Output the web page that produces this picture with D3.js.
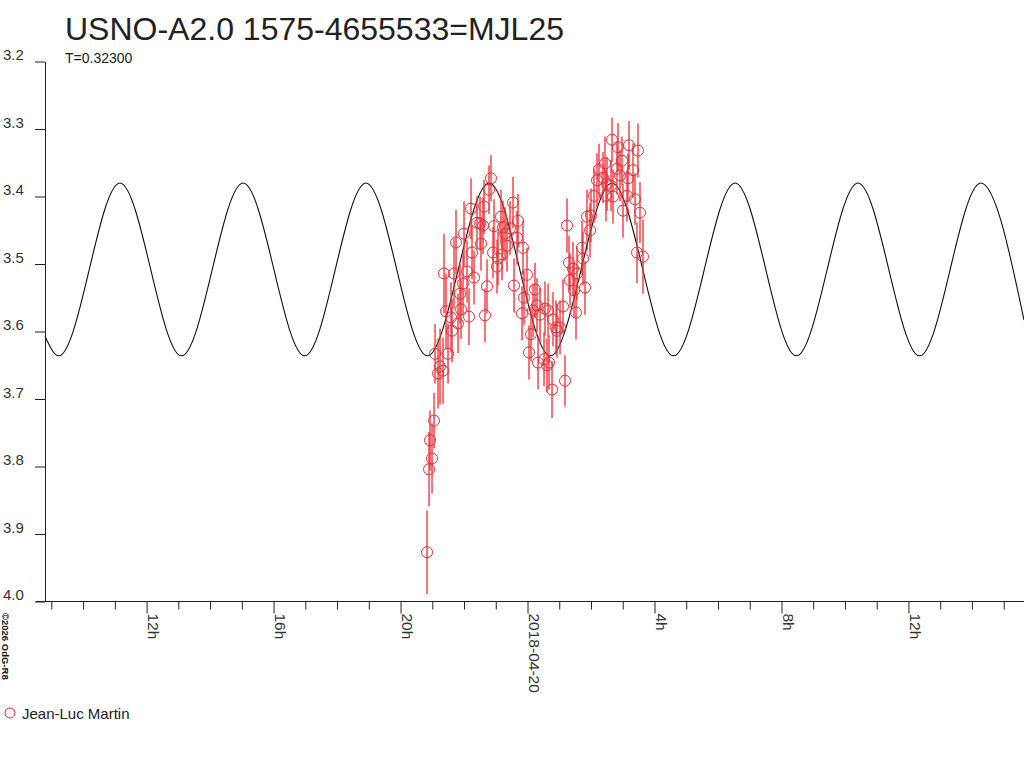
<!DOCTYPE html>
<html>
<head>
<meta charset="utf-8">
<script src="https://cdn.jsdelivr.net/npm/d3@7"></script>
<style>
  html, body { margin: 0; padding: 0; background: #fff; }
  svg { display: block; font-family: "Liberation Sans", Arial, sans-serif; }
</style>
</head>
<body>
<div id="chart"></div>
<script>
// Light curve, times in hours from 2018-04-20 00:00 UT
const titleText = "USNO-A2.0 1575-4655533=MJL25";
const periodText = "T=0.32300";
const observer = "Jean-Luc Martin";
const creditText = "\u00a92026 OdG-R8";

const yTicks = [3.2, 3.3, 3.4, 3.5, 3.6, 3.7, 3.8, 3.9, 4.0];
const xMajorHours = [-12, -8, -4, 0, 4, 8, 12];
const xMajorLabels = ["12h", "16h", "20h", "2018-04-20", "4h", "8h", "12h"];

// observations
const obsTime = [
  -3.165, -3.102, -3.071, -3.008, -2.945, -2.913, -2.819, -2.756, -2.661, -2.630,
  -2.567, -2.504, -2.409, -2.378, -2.315, -2.252, -2.189, -2.126, -2.094, -2.031,
  -2.000, -1.906, -1.843, -1.780, -1.748, -1.685, -1.591, -1.496, -1.465, -1.402,
  -1.370, -1.339, -1.276, -1.213, -1.150, -1.087, -1.055, -0.961, -0.929, -0.835,
  -0.803, -0.772, -0.709, -0.646, -0.551, -0.457, -0.425, -0.331, -0.299, -0.173,
  -0.142, -0.110, -0.016, 0.047, 0.110, 0.173, 0.236, 0.299, 0.331, 0.394,
  0.520, 0.551, 0.614, 0.646, 0.677, 0.772, 0.803, 0.898, 0.929, 1.024,
  1.118, 1.181, 1.244, 1.307, 1.339, 1.433, 1.465, 1.528, 1.559, 1.717,
  1.748, 1.811, 1.874, 1.969, 2.000, 2.094, 2.189, 2.252, 2.378, 2.441,
  2.472, 2.504, 2.630, 2.661, 2.693, 2.819, 2.850, 2.913, 2.976, 3.008,
  3.134, 3.165, 3.197, 3.323, 3.386, 3.449, 3.480, 3.543, 3.638
];
const obsMag = [
  3.927, 3.804, 3.761, 3.788, 3.732, 3.633, 3.662, 3.652, 3.658, 3.514,
  3.570, 3.633, 3.579, 3.599, 3.514, 3.468, 3.588, 3.544, 3.567, 3.529,
  3.455, 3.511, 3.578, 3.418, 3.483, 3.520, 3.439, 3.440, 3.470, 3.443,
  3.415, 3.576, 3.533, 3.390, 3.373, 3.483, 3.444, 3.504, 3.492, 3.430,
  3.486, 3.446, 3.455, 3.473, 3.447, 3.409, 3.532, 3.461, 3.436, 3.573,
  3.476, 3.550, 3.516, 3.631, 3.604, 3.569, 3.538, 3.561, 3.646, 3.575,
  3.641, 3.566, 3.650, 3.569, 3.646, 3.686, 3.582, 3.594, 3.599, 3.594,
  3.563, 3.673, 3.443, 3.498, 3.524, 3.507, 3.539, 3.572, 3.514, 3.476,
  3.492, 3.535, 3.430, 3.450, 3.428, 3.399, 3.376, 3.360, 3.372, 3.351,
  3.399, 3.381, 3.384, 3.316, 3.400, 3.359, 3.327, 3.369, 3.347, 3.421,
  3.399, 3.373, 3.324, 3.361, 3.404, 3.483, 3.332, 3.424, 3.489
];
const obsErr = [
  0.062, 0.055, 0.044, 0.052, 0.041, 0.044, 0.052, 0.056, 0.049, 0.059,
  0.056, 0.044, 0.052, 0.047, 0.052, 0.048, 0.044, 0.044, 0.044, 0.045,
  0.048, 0.046, 0.042, 0.045, 0.040, 0.040, 0.040, 0.040, 0.040, 0.042,
  0.040, 0.040, 0.040, 0.036, 0.034, 0.038, 0.040, 0.040, 0.040, 0.040,
  0.038, 0.040, 0.040, 0.038, 0.040, 0.038, 0.040, 0.040, 0.040, 0.040,
  0.040, 0.040, 0.040, 0.040, 0.040, 0.040, 0.040, 0.040, 0.040, 0.040,
  0.040, 0.040, 0.040, 0.040, 0.040, 0.042, 0.040, 0.040, 0.040, 0.040,
  0.040, 0.038, 0.040, 0.040, 0.040, 0.040, 0.040, 0.040, 0.040, 0.040,
  0.040, 0.040, 0.040, 0.040, 0.040, 0.040, 0.040, 0.038, 0.038, 0.040,
  0.038, 0.040, 0.038, 0.033, 0.040, 0.038, 0.036, 0.038, 0.036, 0.040,
  0.038, 0.036, 0.036, 0.040, 0.038, 0.045, 0.040, 0.045, 0.055
];

// fitted curve, read at its turning points
const fitTime = [
  -15.20, -14.77, -12.84, -10.90, -8.96, -7.02, -5.09, -3.15, -1.21,
  0.72, 2.66, 4.60, 6.54, 8.47, 10.41, 12.35, 14.28, 15.64
];
const fitMag = [
  3.607, 3.636, 3.380, 3.636, 3.380, 3.636, 3.380, 3.636, 3.380,
  3.636, 3.380, 3.636, 3.380, 3.636, 3.380, 3.636, 3.380, 3.583
];

const width = 1024;
const height = 768;
const plot = { left: 45, right: 1024, top: 61.5, bottom: 601.5 };
const red = "#ee2b33";
const ink = "#222";

const obs = obsTime.map((t, i) => ({ t: t, mag: obsMag[i], err: obsErr[i] }));
const fit = fitTime.map((t, i) => ({ t: t, mag: fitMag[i] }));

const x = d3.scaleLinear().domain([-15.2, 15.64]).range([plot.left, plot.right]);
const y = d3.scaleLinear().domain([3.2, 4.0]).range([plot.top, plot.bottom]);

const svg = d3.select("#chart")
  .append("svg")
  .attr("width", width)
  .attr("height", height);

// title
svg.append("text")
  .attr("x", 65)
  .attr("y", 40)
  .attr("font-size", "32px")
  .attr("fill", ink)
  .text(titleText);

svg.append("text")
  .attr("x", 65)
  .attr("y", 63)
  .attr("font-size", "14px")
  .attr("fill", ink)
  .text(periodText);

// y axis
const yAxis = svg.append("g")
  .attr("transform", `translate(${plot.left},0)`)
  .call(d3.axisLeft(y).tickValues(yTicks).tickSize(10).tickSizeOuter(0).tickFormat(d3.format(".1f")));
yAxis.select(".domain").attr("stroke", ink);
yAxis.selectAll(".tick line").attr("stroke", ink);
yAxis.selectAll(".tick text")
  .attr("x", 3 - plot.left)
  .attr("y", -2)
  .attr("dy", null)
  .attr("text-anchor", "start")
  .attr("font-size", "15px")
  .attr("fill", "#333");

// x axis
const xAxisG = svg.append("g").attr("transform", `translate(0,${plot.bottom})`);
xAxisG.append("line")
  .attr("x1", plot.left - 9)
  .attr("x2", plot.right)
  .attr("stroke", ink);

const minorHours = d3.range(-15, 16).filter((h) => !xMajorHours.includes(h));
xAxisG.append("g")
  .call(d3.axisBottom(x).tickValues(minorHours).tickSize(8).tickSizeOuter(0).tickFormat(""))
  .call((g) => g.select(".domain").remove())
  .selectAll("line").attr("stroke", ink);

const major = xAxisG.append("g")
  .call(d3.axisBottom(x).tickValues(xMajorHours).tickSize(12).tickSizeOuter(0)
    .tickFormat((d, i) => xMajorLabels[i]))
  .call((g) => g.select(".domain").remove());
major.selectAll("line").attr("stroke", ink);
major.selectAll("text")
  .attr("x", 0)
  .attr("y", 0)
  .attr("dy", null)
  .attr("text-anchor", "start")
  .attr("transform", "translate(1,12) rotate(90)")
  .attr("font-size", "15.5px")
  .attr("fill", "#333");

// fitted curve
const line = d3.line()
  .x((d) => x(d.t))
  .y((d) => y(d.mag))
  .curve(d3.curveMonotoneX);

svg.append("path")
  .datum(fit)
  .attr("fill", "none")
  .attr("stroke", "#111")
  .attr("stroke-width", 1.1)
  .attr("d", line);

// error bars
svg.append("g")
  .selectAll("line")
  .data(obs)
  .join("line")
  .attr("x1", (d) => x(d.t))
  .attr("x2", (d) => x(d.t))
  .attr("y1", (d) => y(d.mag - d.err))
  .attr("y2", (d) => y(d.mag + d.err))
  .attr("stroke", red)
  .attr("stroke-width", 1.3);

// points
svg.append("g")
  .selectAll("circle")
  .data(obs)
  .join("circle")
  .attr("cx", (d) => x(d.t))
  .attr("cy", (d) => y(d.mag))
  .attr("r", 5.5)
  .attr("fill", "none")
  .attr("stroke", red)
  .attr("stroke-width", 1);

// legend
svg.append("circle")
  .attr("cx", 10)
  .attr("cy", 713)
  .attr("r", 5)
  .attr("fill", "none")
  .attr("stroke", red);

svg.append("text")
  .attr("x", 22)
  .attr("y", 719)
  .attr("font-size", "15px")
  .attr("fill", ink)
  .text(observer);

// credit
svg.append("text")
  .attr("transform", "translate(2,613) rotate(90)")
  .attr("font-size", "9.5px")
  .attr("font-weight", "bold")
  .attr("fill", "#111")
  .text(creditText);
</script>
</body>
</html>
